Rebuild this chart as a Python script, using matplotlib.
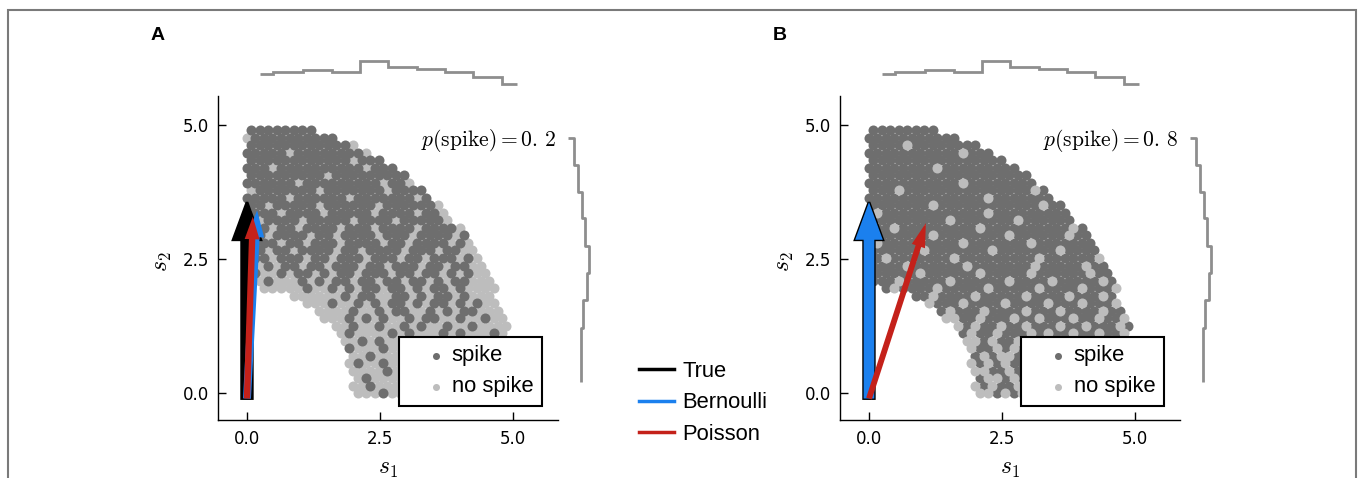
import matplotlib
matplotlib.use("Agg")
import matplotlib.pyplot as plt
from matplotlib.lines import Line2D
from matplotlib.patches import Rectangle

plt.rcParams['font.family'] = 'DejaVu Sans'
plt.rcParams['mathtext.fontset'] = 'cm'

# stimulus cloud read off the picture as a map: one cell = 0.16 (s1) x 0.14 (s2),
# odd rows shifted half a cell; top row first. x = spike, o = no spike, . = empty
map_A = [
    "xxxxxxxx",
    "oxxxxxxxxxx",
    "xxxxxxxxxxxxo",
    "xxxxxoxxxxxxxxo",
    "xxxxxxxxxxxxoxxx",
    "xxxoxxxxxxxxxxoxxx",
    "xxxxxxxxxoxxxxxxxxx",
    "xxxxxxoxxxxxxxxxoxxo",
    "oxxxxxxxoxxxxxxxoxxxx",
    "xxxxxoxxxxxxoxxxxxxxox",
    "xxoxxxxxoxxxxxxoxxxxxxo",
    "xxxxoxxxxoxxxxxoxxxxoxxo",
    "xoxxxxoxxxxxoxxxxoxxxxxo",
    "xxxoxxoxxxxoxxxoxxxxoxxxxo",
    "xxoxxxxoxxoxxxxoxxxoxxxxox",
    "oxxxoxxoxxxoxxxxoxxoxxxxoxo",
    "xxoxxoxxxxoxxoxxxxoxxxoxxoo",
    "oxxoxxxoxxoxxxoxxxoxxoxxxoxo",
    "xoxoxxoxxoxxxoxxoxxxoxxoxxoo",
    "oxooxoxxoxoxxoxxxoxxoxxoxoxoo",
    "ooxoooxoxoxxoxxoxxoxxoxoxxooo",
    "..oooooxooxoxoxxoxxoxoxxoxoooo",
    ".....ooooooxoxxooxxoxoxxoxooo",
    ".......oooxooxoxoxxoxoxxoxoxoo",
    "........ooooxooxoxxooxoxoxxooo",
    ".........oooxoxoxooxoxxooxooxoo",
    "..........ooxooxooxoxooxooxoooo",
    "...........oxooooxoxoooxoxoooxo",
    "...........ooxoxooooxoxooooxooo",
    "............xoooxooxoooxooxooooo",
    "............ooxoooxooxoooooxooo",
    "............oxooxooooooxoooxoooo",
    "............ooooxoooxooooooxooo",
    ".............oxoooooooxoooxooooo",
    "............ooxoooooxooooxoooooo",
    ".............oooxooooooxooooooxo",
]

map_B = [
    "xxxxxxxx",
    "xxxxxxxxxxx",
    "xxxxoxxxxxxxx",
    "xxxxxxxxxxxoxxx",
    "xxxxxxxxxxxxxxxx",
    "xxxxxxxxoxxxxxxxxx",
    "xxxxxxxxxxxxxxxxxxx",
    "xxxxxxxxxxxoxxxxxxxx",
    "xxxoxxxxxxxxxxxxxxxox",
    "xxxxxxxxxxxxxxoxxxxxxx",
    "xxxxxxxoxxxxxxxxxxxxoxx",
    "xoxxxxxxxxxxxxoxxxxxxxxx",
    "xxxxxxxxxoxxxxxxxoxxxxxx",
    "xxxoxxxxxxxxxoxxxxxxxxxxox",
    "xxxxxxxoxxxxxxxxoxxxxxxoxx",
    "xoxxxxxxxxxoxxxxxxxoxxxxxxx",
    "xxxxxxoxxxxxxxoxxxxxxxoxxxx",
    "xxoxxxxxxxoxxxxxxxxxoxxxxxxo",
    "xxxxoxxxxxxoxxxxxxxoxxxxxoxx",
    "oxxxxxoxxxxxxoxxxxxoxxxxxxoxx",
    "xxxoxxxxxoxxxxxxoxxxxoxxxxxox",
    "..xoxxxxoxxxxxoxxxxxoxxxxoxxxo",
    ".....xxoxxxxoxxxxxoxxxxoxxxox",
    ".......oxxxoxxxxoxxxxoxxxoxxxo",
    "........xoxxxoxxxxoxxxoxxxxoxx",
    ".........ooxxoxxxoxxoxxxoxxoxxo",
    "..........oxoxxoxxoxxxoxxoxxxox",
    "...........xoxxoxxxoxoxxoxxoxxo",
    "...........ooxoxxoxxoxxoxxxoxox",
    "............oxxoxoxxoxxxoxoxxoxx",
    "............xoxooxxoxxoxxoxxoxo",
    "............oxoxoxxoxxoxoxxoxoxo",
    "............ooxxoxoxxoxoxxoxoxx",
    ".............xooxoxxoxoxxooxoxxo",
    "............oxoxxooxoxxoxoxxooxx",
    ".............ooxoxooxxoxooxxoxxo",
]
cell_w, cell_h = 0.16, 0.14

# marginal histograms (top: along s1, right: along s2)
top_edges = [0.24, 0.49, 1.05, 1.60, 2.12, 2.65, 3.20, 3.72, 4.25, 4.79, 5.07]
top_counts = [130, 138, 150, 138, 195, 165, 155, 138, 115, 80]
right_counts = [65, 95, 115, 135, 150, 170, 160, 140, 130]
right_pos = [4.76, 4.25, 3.75, 3.26, 2.74, 2.24, 1.74, 1.21, 0.20]

# estimated filter directions (arrow tips)
true_tip = (0.0, 3.56)
bern_tips = [(0.19, 3.41), (0.0, 3.56)]
pois_tips = [(0.11, 3.29), (1.07, 3.17)]
p_spike = ['0.\\,2', '0.\\,8']
panel_names = ['A', 'B']

DARK, LIGHT, HIST = '#6e6e6e', '#bdbdbd', '#8e8e8e'
BLUE, RED = '#1b80ee', '#c4211a'
SANS = 'Liberation Sans'
DOT = 52


def map_points(rows, code):
    xs, ys = [], []
    n = len(rows)
    for k, row in enumerate(rows):
        j = n - 1 - k
        off = cell_w / 2 if j % 2 else 0.0
        for i, ch in enumerate(row):
            if ch == code:
                xs.append(i * cell_w + off)
                ys.append(j * cell_h)
    return xs, ys


def arrow(ax, tip, color, width, hw, hl, ec=None, lw=0, z=4):
    ax.arrow(0, -0.1, tip[0], tip[1] + 0.1, width=width, head_width=hw,
             head_length=hl, length_includes_head=True, fc=color,
             ec=ec or color, lw=lw, zorder=z)


W, H = 1358, 478
fig = plt.figure(figsize=(W / 100, H / 100), dpi=100)


def px_axes(l, t, r, b):
    return fig.add_axes([l / W, 1 - b / H, (r - l) / W, (b - t) / H])


xlim = (-0.545, 5.85)
ylim = (-0.5, 5.54)

for p, cmap in enumerate([map_A, map_B]):
    off = 622 * p
    ax = px_axes(218 + off, 96, 558 + off, 420)
    ax.set_xlim(*xlim)
    ax.set_ylim(*ylim)

    xd, yd = map_points(cmap, 'x')
    xl, yl = map_points(cmap, 'o')
    if p == 0:
        sl = ax.scatter(xl, yl, s=DOT, c=LIGHT, lw=0, zorder=2)
        sd = ax.scatter(xd, yd, s=DOT, c=DARK, lw=0, zorder=2)
    else:
        sd = ax.scatter(xd, yd, s=DOT, c=DARK, lw=0, zorder=2)
        sl = ax.scatter(xl, yl, s=DOT, c=LIGHT, lw=0, zorder=2)

    # arrows
    arrow(ax, true_tip, 'black', 0.2, 0.52, 0.7, ec='black', lw=2, z=4)
    if p == 0:
        arrow(ax, bern_tips[p], BLUE, 0.15, 0.32, 0.5, z=5)
        arrow(ax, pois_tips[p], RED, 0.12, 0.28, 0.42, z=6)
    else:
        arrow(ax, bern_tips[p], BLUE, 0.2, 0.52, 0.7, z=5)
        arrow(ax, pois_tips[p], RED, 0.11, 0.26, 0.45, z=6)

    for s in ['top', 'right']:
        ax.spines[s].set_visible(False)
    for s in ['left', 'bottom']:
        ax.spines[s].set_linewidth(1.0)
    ax.set_xticks([0, 2.5, 5])
    ax.set_yticks([0, 2.5, 5])
    ax.set_xticklabels(['0.0', '2.5', '5.0'])
    ax.set_yticklabels(['0.0', '2.5', '5.0'])
    ax.tick_params(direction='in', length=6, width=1, labelsize=12)
    ax.tick_params(axis='x', pad=7)
    ax.tick_params(axis='y', pad=6.5)

    ax.set_xlabel('$s_1$', fontsize=17, va='center')
    ax.xaxis.set_label_coords(0.5, -0.148)
    ax.set_ylabel('$s_2$', fontsize=17, va='center')
    ax.yaxis.set_label_coords(-0.165, 0.49)

    ax.text(0.994, 0.864, r'$p(\mathrm{spike}) = %s$' % p_spike[p],
            transform=ax.transAxes, ha='right', va='center', fontsize=15.5)

    leg = ax.legend([sd, sl], ['spike', 'no spike'], loc='lower right',
                    bbox_to_anchor=(0.953, 0.043), borderaxespad=0,
                    fancybox=False, edgecolor='black', framealpha=1,
                    prop={'family': SANS, 'size': 15.8}, handlelength=2.6,
                    handletextpad=-0.6, borderpad=0.4, labelspacing=0.45,
                    markerscale=0.7)
    leg.get_frame().set_linewidth(1.5)

    # top marginal
    axt = px_axes(218 + off, 55, 558 + off, 100)
    axt.set_xlim(*xlim)
    axt.set_ylim(0, 225)
    axt.stairs(top_counts, top_edges, baseline=None, color=HIST, lw=2)
    axt.axis('off')

    # right marginal
    axr = px_axes(555 + off, 96, 600 + off, 420)
    axr.set_xlim(0, 225)
    axr.set_ylim(*ylim)
    axr.plot(right_counts, right_pos, drawstyle='steps-post', color=HIST,
             lw=2, solid_capstyle='butt')
    axr.axis('off')

    fig.text((151 + off) / W, 1 - 35 / H, panel_names[p], fontsize=14,
             fontweight='bold', family=SANS, va='center')

handles = [Line2D([], [], color='black', lw=2.5),
           Line2D([], [], color=BLUE, lw=2.5),
           Line2D([], [], color=RED, lw=2.5)]
fig.legend(handles, ['True', 'Bernoulli', 'Poisson'], loc='center left',
           bbox_to_anchor=(639 / W, 1 - 403 / H), frameon=False, borderpad=0,
           borderaxespad=0, handlelength=1.6, handletextpad=0.36,
           labelspacing=0.48, prop={'family': SANS, 'size': 15.8})

fig.patches.append(Rectangle((7.5 / W, -0.1), 1348 / W, 1.1 - 10 / H,
                             transform=fig.transFigure, fill=False,
                             ec='#7a7a7a', lw=1.5))

fig.savefig('out.png', dpi=100)
